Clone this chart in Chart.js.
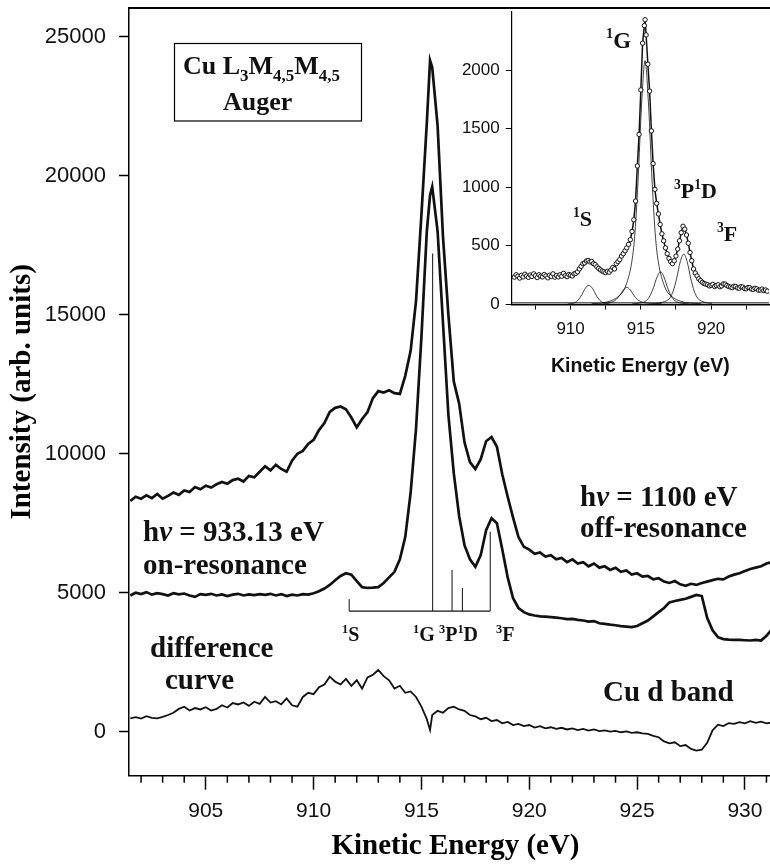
<!DOCTYPE html>
<html>
<head>
<meta charset="utf-8">
<script src="https://cdn.jsdelivr.net/npm/chart.js@4.4.1/dist/chart.umd.min.js"></script>
<style>
  html, body { margin: 0; padding: 0; background: #fff; overflow: hidden; }
  #wrap { position: relative; width: 770px; height: 868px; overflow: hidden; }
  #main { position: absolute; left: 0; top: 0; }
  #inset { position: absolute; left: 455px; top: 0; }
</style>
</head>
<body>
<div id="wrap">
  <canvas id="main" width="782" height="868"></canvas>
  <canvas id="inset" width="319" height="390"></canvas>
</div>
<script>
// main spectra, kinetic energy in eV
const energy = [
  901.5, 901.75, 902, 902.25, 902.5, 902.75, 903, 903.25, 903.5, 903.75,
  904, 904.25, 904.5, 904.75, 905, 905.25, 905.5, 905.75, 906, 906.25,
  906.5, 906.75, 907, 907.25, 907.5, 907.75, 908, 908.25, 908.5, 908.75,
  909, 909.25, 909.5, 909.75, 910, 910.25, 910.5, 910.75, 911, 911.25,
  911.5, 911.75, 912, 912.25, 912.5, 912.75, 913, 913.25, 913.5, 913.75,
  914, 914.25, 914.5, 914.75, 915, 915.25, 915.4, 915.5, 915.75, 916,
  916.25, 916.5, 916.75, 917, 917.25, 917.5, 917.75, 918, 918.25, 918.5,
  918.75, 919, 919.25, 919.5, 919.75, 920, 920.25, 920.5, 920.75, 921,
  921.25, 921.5, 921.75, 922, 922.25, 922.5, 922.75, 923, 923.25, 923.5,
  923.75, 924, 924.25, 924.5, 924.75, 925, 925.25, 925.5, 925.75, 926,
  926.25, 926.5, 926.75, 927, 927.25, 927.5, 927.75, 928, 928.25, 928.5,
  928.75, 929, 929.25, 929.5, 929.75, 930, 930.25, 930.5, 930.75, 931,
  931.25, 931.5, 931.75
];

// hv = 1100 eV, off-resonance
const offRes = [
  8300, 8450, 8380, 8500, 8400, 8550, 8380, 8480, 8600, 8520,
  8680, 8620, 8800, 8720, 8850, 8780, 8900, 8980, 8920, 9050,
  9100, 9000, 9200, 9150, 9350, 9550, 9400, 9600, 9450, 9350,
  9750, 10000, 10100, 10350, 10500, 10850, 11100, 11500, 11650, 11700,
  11600, 11300, 10950, 11250, 11500, 12000, 12250, 12200, 12280, 12180,
  12150, 12800, 13700, 15500, 18600, 21900, 24150, 23900, 21800, 17800,
  15000, 12600, 11800, 10400, 9700, 9450, 9800, 10450, 10600, 10250,
  9250, 8450, 7700, 7000, 6650, 6550, 6400, 6450, 6300, 6350,
  6200, 6250, 6100, 6200, 6050, 6100, 5950, 6050, 5900, 5950,
  5820, 5900, 5750, 5800, 5650, 5700, 5580, 5600, 5480, 5520,
  5400, 5350, 5420, 5300, 5250, 5320, 5280, 5350, 5400, 5450,
  5500, 5480, 5580, 5650, 5700, 5780, 5850, 5900, 5950, 6050,
  6100, 6150, 6200
];

// hv = 933.13 eV, on-resonance
const onRes = [
  4900, 5000, 4950, 5020, 4930, 4980, 4950, 4900, 4980, 4940,
  4970, 4900, 4850, 4950, 4920, 4960, 4900, 4940, 4880, 4930,
  4960, 4900, 4940, 4910, 4950, 4920, 4960, 4900, 4950, 4880,
  4930, 4900, 4950, 4930, 4980, 5050, 5150, 5280, 5450, 5600,
  5700, 5650, 5420, 5200, 5170, 5180, 5200, 5350, 5550, 5750,
  6200, 7000, 8600, 10900, 14200, 18000, 19300, 19600, 18000, 14700,
  11400, 9300, 7750, 6700, 6200, 5930, 6350, 7250, 7680, 7500,
  6550, 5550, 4800, 4450, 4300, 4220, 4180, 4150, 4140, 4120,
  4100, 4080, 4050, 4060, 4020, 4000, 3960, 3980, 3900, 3880,
  3850, 3830, 3800, 3780, 3760, 3800, 3900, 4000, 4150, 4300,
  4450, 4650, 4700, 4740, 4780, 4850, 4920, 4880, 4100, 3650,
  3400, 3330, 3310, 3300, 3300, 3290, 3280, 3300, 3280, 3450,
  3680, 3850, 4000
];

// difference curve
const diffCurve = [
  480, 520, 470, 560, 500, 480, 530, 600, 680, 820,
  900, 760, 850, 800, 880, 760, 820, 950, 870, 1030,
  980, 1050, 930, 1080, 1000, 1250, 1050, 1100, 980, 1200,
  950, 900, 1250, 1400, 1350, 1600, 1700, 1980, 1800, 1700,
  1900, 1650, 1850, 1550, 1950, 2050, 2220, 2000, 1850, 1550,
  1650, 1400, 1450, 1250, 900, 450, 60, 600, 750, 680,
  850, 900, 800, 750, 600, 550, 450, 500, 380, 420,
  300, 350, 240, 280, 200, 240, 150, 200, 120, 160,
  100, 140, 80, 120, 60, 100, 40, 80, 20, 50,
  0, 30, -20, 10, -40, -20, -60, -80, -150, -200,
  -350, -420, -380, -520, -480, -620, -680, -650, -400, 50,
  250, 200, 310, 280, 340, 300, 380, 320, 360, 300,
  330, 300, 340
];

// multiplet stick positions (1S, 1G, 3P, 1D, 3F)
const stickE = [911.65, 915.52, 916.42, 916.9, 918.19];
const stickTop = [4770, 17200, 5820, 5170, 7190];
const stickBase = 4340;

const xTicks = [905, 910, 915, 920, 925, 930];
const yTicks = [0, 5000, 10000, 15000, 20000, 25000];

// inset: measured points and fitted components
const insetE = [
  906, 906.125, 906.25, 906.375, 906.5, 906.625, 906.75, 906.875,
  907, 907.125, 907.25, 907.375, 907.5, 907.625, 907.75, 907.875,
  908, 908.125, 908.25, 908.375, 908.5, 908.625, 908.75, 908.875,
  909, 909.125, 909.25, 909.375, 909.5, 909.625, 909.75, 909.875,
  910, 910.125, 910.25, 910.375, 910.5, 910.625, 910.75, 910.875,
  911, 911.125, 911.25, 911.375, 911.5, 911.625, 911.75, 911.875,
  912, 912.125, 912.25, 912.375, 912.5, 912.625, 912.75, 912.875,
  913, 913.125, 913.25, 913.375, 913.5, 913.625, 913.75, 913.875,
  914, 914.125, 914.25, 914.375, 914.5, 914.625, 914.75, 914.875,
  915, 915.125, 915.25, 915.3, 915.375, 915.5, 915.625, 915.75, 915.875,
  916, 916.125, 916.25, 916.375, 916.5, 916.625, 916.75, 916.875,
  917, 917.125, 917.25, 917.375, 917.5, 917.625, 917.75, 917.875,
  918, 918.125, 918.25, 918.375, 918.5, 918.625, 918.75, 918.875,
  919, 919.125, 919.25, 919.375, 919.5, 919.625, 919.75, 919.875,
  920, 920.125, 920.25, 920.375, 920.5, 920.625, 920.75, 920.875,
  921, 921.125, 921.25, 921.375, 921.5, 921.625, 921.75, 921.875,
  922, 922.125, 922.25, 922.375, 922.5, 922.625, 922.75, 922.875,
  923, 923.125, 923.25, 923.375, 923.5, 923.625, 923.75, 923.875,
  924
];
const insetY = [
  230, 250, 238, 222, 245, 232, 255, 240,
  228, 248, 236, 258, 242, 226, 250, 238,
  232, 252, 240, 224, 246, 236, 258, 230,
  244, 232, 250, 238, 262, 242, 234, 252,
  246, 240, 258, 262, 275, 300, 322, 345,
  352, 368, 372, 360, 364, 345, 338, 318,
  305, 292, 282, 275, 268, 280, 272, 290,
  312, 300, 345, 362, 380, 410, 430, 455,
  480, 510, 550, 620, 720, 880, 1180, 1450,
  1830, 2230, 2380, 2430, 2300, 2050, 1820, 1480, 1200,
  980, 860, 770, 680, 600, 540, 480, 430,
  390, 362, 345, 370, 410, 470, 540, 610,
  665, 640, 590, 520, 440, 370, 300, 265,
  240, 215, 200, 185, 175, 170, 165, 155,
  160, 168, 150, 158, 165, 148, 155, 172,
  170, 158, 150, 145, 140, 152, 150, 138,
  135, 148, 145, 132, 130, 142, 140, 128,
  125, 135, 130, 118, 120, 128, 115, 120,
  110
];

const comp1S_E = [909.8, 910.3, 910.55, 910.8, 911.05, 911.3, 911.55, 911.8, 912.05, 912.3, 912.8];
const comp1S_Y = [0, 12, 35, 80, 135, 160, 135, 80, 35, 12, 0];
const comp914_E = [911.5, 912.5, 913, 913.25, 913.5, 913.75, 914, 914.25, 914.5, 914.75, 915, 915.5, 916.5];
const comp914_Y = [3, 10, 20, 40, 75, 120, 143, 120, 75, 40, 20, 8, 2];
const comp1G_E = [912.3, 912.8, 913.3, 913.8, 914.05, 914.3, 914.55, 914.8, 915.05, 915.3,
                  915.55, 915.8, 916.05, 916.3, 916.55, 916.8, 917.3, 917.8, 918.3, 919.3];
const comp1G_Y = [10, 25, 55, 120, 200, 320, 560, 1050, 1700, 2080,
                  1700, 1050, 560, 320, 200, 120, 55, 25, 10, 3];
const comp3P_E = [914.4, 914.9, 915.4, 915.65, 915.9, 916.15, 916.4, 916.65, 916.9, 917.15, 917.4, 917.9, 918.4];
const comp3P_Y = [2, 8, 30, 70, 140, 230, 276, 230, 140, 70, 30, 8, 2];
const comp3F_E = [916.05, 916.55, 917.05, 917.3, 917.55, 917.8, 918.05, 918.3, 918.55, 918.8, 919.05, 919.55, 920.05];
const comp3F_Y = [5, 15, 50, 110, 220, 360, 427, 360, 220, 110, 50, 15, 5];
const baseE = [905.8, 924.2];
const baseY = [10, 10];

const insetXTicks = [907.5, 910, 912.5, 915, 917.5, 920, 922.5];
const insetYTicks = [0, 500, 1000, 1500, 2000];

const serif = '"Liberation Serif", "Times New Roman", serif';
const sans = '"Liberation Sans", Arial, sans-serif';
const ink = '#111';

const pts = (xs, ys) => xs.map((x, i) => ({ x: x, y: ys[i] }));

function line(data, w) {
  return { data: data, showLine: true, borderColor: ink, borderWidth: w,
           pointRadius: 0, tension: 0, fill: false };
}

// keep the plot box where I put it, chart.js adds label padding otherwise
function noPad(s) {
  s.paddingTop = 0;
  s.paddingBottom = 0;
  s.paddingLeft = 0;
  s.paddingRight = 0;
}

const mainSets = [
  line(pts(energy, offRes), 2.7),
  line(pts(energy, onRes), 2.7),
  line(pts(energy, diffCurve), 1.8),
  line([{ x: stickE[0], y: stickBase }, { x: stickE[stickE.length - 1], y: stickBase }], 1.2)
];
stickE.forEach((e, i) => {
  mainSets.push(line([{ x: e, y: stickBase }, { x: e, y: stickTop[i] }], 1));
});

// text with sub/superscripts
function drawParts(ctx, x, y, size, parts) {
  let cx = x;
  for (const [t, kind] of parts) {
    let fs = size, dy = 0, it = '';
    if (kind === 'sub') { fs = size * 0.65; dy = size * 0.27; }
    if (kind === 'sup') { fs = size * 0.62; dy = -size * 0.42; }
    if (kind === 'i') it = 'italic ';
    ctx.font = it + 'bold ' + fs + 'px ' + serif;
    ctx.fillText(t, cx, y + dy);
    cx += ctx.measureText(t).width;
  }
}

const notes = [
  { x: 183, y: 74, size: 26, parts: [['Cu L', ''], ['3', 'sub'], ['M', ''], ['4,5', 'sub'], ['M', ''], ['4,5', 'sub']] },
  { x: 223, y: 110, size: 26, parts: [['Auger', '']] },
  { x: 143, y: 541, size: 29, parts: [['h', ''], ['ν', 'i'], [' = 933.13 eV', '']] },
  { x: 143, y: 574, size: 29, parts: [['on-resonance', '']] },
  { x: 580, y: 506, size: 29, parts: [['h', ''], ['ν', 'i'], [' = 1100 eV', '']] },
  { x: 580, y: 537, size: 29, parts: [['off-resonance', '']] },
  { x: 150, y: 657, size: 29, parts: [['difference', '']] },
  { x: 165, y: 689, size: 29, parts: [['curve', '']] },
  { x: 603, y: 701, size: 29, parts: [['Cu d band', '']] },
  { x: 342, y: 641, size: 20, parts: [['1', 'sup'], ['S', '']] },
  { x: 413, y: 641, size: 20, parts: [['1', 'sup'], ['G', '']] },
  { x: 439, y: 641, size: 20, parts: [['3', 'sup'], ['P', ''], ['1', 'sup'], ['D', '']] },
  { x: 496, y: 641, size: 20, parts: [['3', 'sup'], ['F', '']] },
  { x: 606, y: 48, size: 23, parts: [['1', 'sup'], ['G', '']] },
  { x: 573, y: 226, size: 22, parts: [['1', 'sup'], ['S', '']] },
  { x: 674, y: 198, size: 22, parts: [['3', 'sup'], ['P', ''], ['1', 'sup'], ['D', '']] },
  { x: 717, y: 241, size: 22, parts: [['3', 'sup'], ['F', '']] }
];

const decor = {
  id: 'decor',
  afterDraw(chart) {
    const { ctx, chartArea, scales } = chart;
    ctx.save();
    ctx.strokeStyle = '#000';
    // top frame line
    ctx.lineWidth = 2;
    ctx.beginPath();
    ctx.moveTo(chartArea.left, chartArea.top);
    ctx.lineTo(chartArea.right, chartArea.top);
    ctx.stroke();
    // minor ticks every 1 eV
    ctx.lineWidth = 1.5;
    for (let v = 902; v <= 931; v++) {
      if (v % 5 === 0) continue;
      const px = scales.x.getPixelForValue(v);
      ctx.beginPath();
      ctx.moveTo(px, chartArea.bottom);
      ctx.lineTo(px, chartArea.bottom + 7);
      ctx.stroke();
    }
    // title box
    ctx.lineWidth = 1.2;
    ctx.strokeRect(174.5, 43.5, 187, 77.5);
    ctx.fillStyle = ink;
    ctx.textBaseline = 'alphabetic';
    ctx.textAlign = 'left';
    notes.forEach(n => drawParts(ctx, n.x, n.y, n.size, n.parts));
    ctx.restore();
  }
};

new Chart(document.getElementById('main'), {
  type: 'scatter',
  data: { datasets: mainSets },
  options: {
    responsive: false,
    animation: false,
    devicePixelRatio: 1,
    layout: { padding: { top: 8, left: 0, right: 0, bottom: 0 } },
    plugins: { legend: { display: false }, tooltip: { enabled: false } },
    scales: {
      x: {
        type: 'linear',
        min: 901.44,
        max: 931.72,
        afterFit: s => { s.height = 92.3; noPad(s); },
        afterBuildTicks: s => { s.ticks = xTicks.map(v => ({ value: v })); },
        border: { color: '#000', width: 1.5 },
        grid: { drawOnChartArea: false, tickLength: 14, tickWidth: 1.5, tickColor: '#000' },
        ticks: { color: ink, padding: 9, maxRotation: 0, autoSkip: false,
                 font: { family: sans, size: 21 }, callback: v => String(v) },
        title: { display: true, text: 'Kinetic Energy (eV)', color: '#000',
                 font: { family: serif, size: 29, weight: 'bold' }, padding: { top: 0, bottom: 4 } }
      },
      y: {
        type: 'linear',
        min: -1583,
        max: 26032,
        afterFit: s => { s.width = 129; noPad(s); },
        afterBuildTicks: s => { s.ticks = yTicks.map(v => ({ value: v })); },
        border: { color: '#000', width: 1.5 },
        grid: { drawOnChartArea: false, tickLength: 10, tickWidth: 1.5, tickColor: '#000' },
        ticks: { color: ink, padding: 13, autoSkip: false,
                 font: { family: sans, size: 22 }, callback: v => String(v) },
        title: { display: true, text: 'Intensity (arb. units)', color: '#000',
                 font: { family: serif, size: 29, weight: 'bold' }, padding: { top: 5, bottom: 0 } }
      }
    }
  },
  plugins: [decor]
});

// inset
const thin = (xs, ys) => Object.assign(line(pts(xs, ys), 0.8), { cubicInterpolationMode: 'monotone' });
const insetSets = [
  {
    data: pts(insetE, insetY), showLine: true, borderColor: ink, borderWidth: 1.5, tension: 0,
    pointRadius: 2.2, pointStyle: 'circle', pointBackgroundColor: '#fff',
    pointBorderColor: ink, pointBorderWidth: 1
  },
  thin(comp1S_E, comp1S_Y),
  thin(comp914_E, comp914_Y),
  thin(comp1G_E, comp1G_Y),
  thin(comp3P_E, comp3P_Y),
  thin(comp3F_E, comp3F_Y),
  line(pts(baseE, baseY), 1)
];

new Chart(document.getElementById('inset'), {
  type: 'scatter',
  data: { datasets: insetSets },
  options: {
    responsive: false,
    animation: false,
    devicePixelRatio: 1,
    layout: { padding: { top: 12, left: 0, right: 0, bottom: 0 } },
    plugins: { legend: { display: false }, tooltip: { enabled: false } },
    scales: {
      x: {
        type: 'linear',
        min: 905.81,
        max: 924.12,
        afterFit: s => { s.height = 85.5; noPad(s); },
        afterBuildTicks: s => { s.ticks = insetXTicks.map(v => ({ value: v })); },
        border: { color: '#000', width: 1.5 },
        grid: { drawOnChartArea: false, tickLength: 5, tickWidth: 1, tickColor: '#000' },
        ticks: { color: ink, padding: 10, maxRotation: 0, autoSkip: false,
                 font: { family: sans, size: 17 }, callback: v => (v % 5 === 0 ? String(v) : '') },
        title: { display: true, text: 'Kinetic Energy (eV)', color: ink,
                 font: { family: sans, size: 19.5, weight: 'bold' }, padding: { top: 0, bottom: 12 } }
      },
      y: {
        type: 'linear',
        min: -4,
        max: 2496,
        afterFit: s => { s.width = 56.7; noPad(s); },
        afterBuildTicks: s => { s.ticks = insetYTicks.map(v => ({ value: v })); },
        border: { color: '#000', width: 1.2 },
        grid: { drawOnChartArea: false, tickLength: 6, tickWidth: 1, tickColor: '#000' },
        ticks: { color: ink, padding: 6, autoSkip: false,
                 font: { family: sans, size: 17 }, callback: v => String(v) }
      }
    }
  }
});
</script>
</body>
</html>
